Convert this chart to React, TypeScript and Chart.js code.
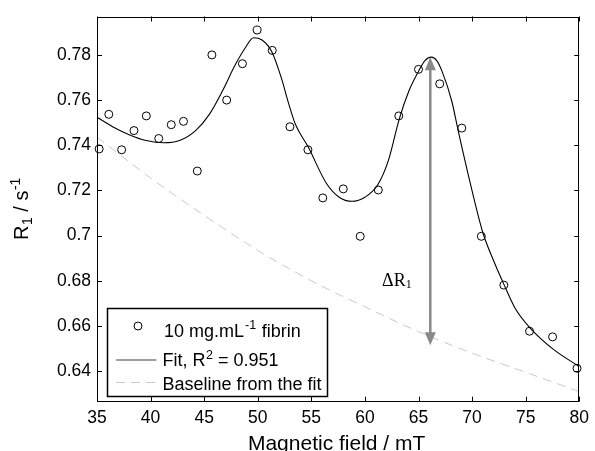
import React, { useEffect, useRef } from "react";
import { Chart, registerables } from "chart.js";

Chart.register(...registerables);

// Measured data (10 mg/mL fibrin)
const fieldMeasured = [35.2, 36.1, 37.3, 38.45, 39.6, 40.76, 41.93, 43.07, 44.36, 45.72, 47.1, 48.57, 49.94, 51.35, 53.0, 54.68, 56.07, 57.98, 59.56, 61.25, 63.16, 65.0, 66.98, 69.04, 70.86, 72.96, 75.36, 77.51, 79.79];
const r1Measured = [0.7384, 0.7537, 0.738, 0.7465, 0.753, 0.743, 0.7491, 0.7506, 0.7286, 0.78, 0.76, 0.7761, 0.791, 0.782, 0.7482, 0.738, 0.7167, 0.7207, 0.6997, 0.7202, 0.753, 0.7736, 0.7672, 0.7476, 0.6997, 0.6781, 0.6577, 0.6552, 0.6413];

// Fit curve
const fitField = [35, 36.5, 38, 39.6, 41.2, 42.7, 44.2, 45.5, 46.7, 47.9, 48.9, 49.6, 50.4, 51.3, 52.2, 52.9, 53.5, 54.7, 56.4, 57.6, 58.8, 60.0, 61.2, 62.2, 63.2, 64.1, 65.0, 65.6, 66.2, 66.7, 67.2, 68.1, 68.7, 69.9, 71.0, 72.0, 73.0, 74.0, 75.4, 77.5, 80];
const fitR1 = [0.7524, 0.7481, 0.7447, 0.7421, 0.7411, 0.7421, 0.7465, 0.7538, 0.764, 0.7756, 0.7836, 0.7876, 0.7866, 0.7815, 0.7698, 0.7582, 0.7494, 0.7393, 0.7232, 0.717, 0.7152, 0.717, 0.7225, 0.7334, 0.7516, 0.764, 0.7727, 0.7775, 0.779, 0.7775, 0.7727, 0.7596, 0.7465, 0.7218, 0.7014, 0.689, 0.6781, 0.668, 0.6592, 0.65, 0.642];

// Baseline from the fit
const baseField = [35, 40, 45, 50, 55, 60, 65, 70, 75, 80];
const baseR1 = [0.7436, 0.7255, 0.709, 0.6935, 0.68, 0.6685, 0.6575, 0.648, 0.6395, 0.631];

// Axes
const xTicks = [35, 40, 45, 50, 55, 60, 65, 70, 75, 80];
const yTicks = [0.64, 0.66, 0.68, 0.7, 0.72, 0.74, 0.76, 0.78];
const xRange = [35, 80];
const yRange = [0.6265, 0.797];

// Annotation (delta R1 arrow)
const arrowField = 66.1;
const arrowFrom = 0.6515;
const arrowTo = 0.779;
const deltaLabelField = 61.6;
const deltaLabelR1 = 0.6777;

const SANS = '"Liberation Sans", Arial, Helvetica, sans-serif';
const SERIF = '"Liberation Serif", "Times New Roman", serif';
const BASE_COLOR = "#cdc9c1";
const ARROW_COLOR = "#898989";

const drawPlugin = {
  id: "matlabDecor",
  afterDraw(chart: any) {
    const { ctx, chartArea: a, scales } = chart;
    const xs = scales.x;
    const ys = scales.y;
    ctx.save();

    // Box
    ctx.strokeStyle = "#000";
    ctx.lineWidth = 1;
    ctx.strokeRect(Math.round(a.left) + 0.5, Math.round(a.top) + 0.5, Math.round(a.right - a.left) - 1, Math.round(a.bottom - a.top) - 1);

    // Inward ticks
    const tl = 5;
    ctx.beginPath();
    xTicks.forEach((v) => {
      const px = Math.round(xs.getPixelForValue(v)) + 0.5;
      ctx.moveTo(px, a.bottom);
      ctx.lineTo(px, a.bottom - tl);
      ctx.moveTo(px, a.top);
      ctx.lineTo(px, a.top + tl);
    });
    yTicks.forEach((v) => {
      const py = Math.round(ys.getPixelForValue(v)) + 0.5;
      ctx.moveTo(a.left, py);
      ctx.lineTo(a.left + tl, py);
      ctx.moveTo(a.right, py);
      ctx.lineTo(a.right - tl, py);
    });
    ctx.stroke();

    // Arrow
    const ax = xs.getPixelForValue(arrowField);
    const ay1 = ys.getPixelForValue(arrowFrom);
    const ay2 = ys.getPixelForValue(arrowTo);
    const headL = 13;
    const headW = 5.5;
    ctx.strokeStyle = ARROW_COLOR;
    ctx.fillStyle = ARROW_COLOR;
    ctx.lineWidth = 2.5;
    ctx.beginPath();
    ctx.moveTo(ax, ay1 - headL + 1);
    ctx.lineTo(ax, ay2 + headL - 1);
    ctx.stroke();
    ctx.beginPath();
    ctx.moveTo(ax, ay1);
    ctx.lineTo(ax - headW, ay1 - headL);
    ctx.lineTo(ax + headW, ay1 - headL);
    ctx.closePath();
    ctx.fill();
    ctx.beginPath();
    ctx.moveTo(ax, ay2);
    ctx.lineTo(ax - headW, ay2 + headL);
    ctx.lineTo(ax + headW, ay2 + headL);
    ctx.closePath();
    ctx.fill();

    // Delta R1 label
    ctx.fillStyle = "#000";
    ctx.textBaseline = "alphabetic";
    ctx.textAlign = "left";
    let lx = xs.getPixelForValue(deltaLabelField);
    const ly = ys.getPixelForValue(deltaLabelR1);
    ctx.font = `18px ${SERIF}`;
    ctx.fillText("ΔR", lx, ly);
    lx += ctx.measureText("ΔR").width;
    ctx.font = `12px ${SERIF}`;
    ctx.fillText("1", lx, ly + 1.5);

    // Legend
    const L = a.left + 10.5;
    const T = a.top + 292;
    const W = 220;
    const H = 88;
    ctx.fillStyle = "#fff";
    ctx.fillRect(L, T, W, H);
    ctx.strokeStyle = "#000";
    ctx.lineWidth = 1.5;
    ctx.strokeRect(L, T, W, H);

    const lineX1 = L + 8.5;
    const lineX2 = L + 49;
    const textX = L + 55;
    // entry 1: circle
    ctx.lineWidth = 1;
    ctx.strokeStyle = "#000";
    ctx.beginPath();
    ctx.arc(L + 30.5, T + 17.5, 4, 0, Math.PI * 2);
    ctx.stroke();
    ctx.fillStyle = "#000";
    ctx.font = `18px ${SANS}`;
    let tx = textX + 1.5;
    let ty = T + 28;
    ctx.fillText("10 mg.mL", tx, ty);
    tx += ctx.measureText("10 mg.mL").width + 1;
    ctx.font = `12.5px ${SANS}`;
    ctx.fillText("-1", tx, ty - 7.5);
    tx += ctx.measureText("-1").width + 0.5;
    ctx.font = `18px ${SANS}`;
    ctx.fillText(" fibrin", tx, ty);

    // entry 2: fit line
    ctx.strokeStyle = "#444";
    ctx.lineWidth = 1.2;
    ctx.beginPath();
    ctx.moveTo(lineX1, T + 51.5);
    ctx.lineTo(lineX2, T + 51.5);
    ctx.stroke();
    tx = textX;
    ty = T + 57.5;
    ctx.fillText("Fit, R", tx, ty);
    tx += ctx.measureText("Fit, R").width + 0.5;
    ctx.font = `12.5px ${SANS}`;
    ctx.fillText("2", tx, ty - 7.5);
    tx += ctx.measureText("2").width;
    ctx.font = `18px ${SANS}`;
    ctx.fillText(" = 0.951", tx, ty);

    // entry 3: baseline
    ctx.strokeStyle = BASE_COLOR;
    ctx.lineWidth = 1;
    ctx.setLineDash([9, 6]);
    ctx.beginPath();
    ctx.moveTo(lineX1, T + 74);
    ctx.lineTo(lineX2, T + 74);
    ctx.stroke();
    ctx.setLineDash([]);
    ctx.fillText("Baseline from the fit", textX, T + 81.5);

    // X axis title
    ctx.font = `21px ${SANS}`;
    ctx.textAlign = "center";
    ctx.fillText("Magnetic field / mT", (a.left + a.right) / 2 - 1.5, 450);

    // Y axis title (rotated)
    ctx.save();
    ctx.translate(27.5, 240);
    ctx.rotate(-Math.PI / 2);
    ctx.textAlign = "left";
    let yx = 0;
    ctx.font = `20px ${SANS}`;
    ctx.fillText("R", yx, 0);
    yx += ctx.measureText("R").width + 0.5;
    ctx.font = `14px ${SANS}`;
    ctx.fillText("1", yx, 4);
    yx += ctx.measureText("1").width;
    ctx.font = `20px ${SANS}`;
    ctx.fillText(" / s", yx, 0);
    yx += ctx.measureText(" / s").width + 0.5;
    ctx.font = `14px ${SANS}`;
    ctx.fillText("-1", yx, -8);
    ctx.restore();

    ctx.restore();
  },
};

export default function App() {
  const canvasRef = useRef<HTMLCanvasElement | null>(null);

  useEffect(() => {
    document.body.style.margin = "0";
    const canvas = canvasRef.current;
    if (!canvas) return;
    const chart = new Chart(canvas, {
      type: "scatter",
      data: {
        datasets: [
          {
            label: "Baseline from the fit",
            data: baseField.map((x, i) => ({ x, y: baseR1[i] })),
            showLine: true,
            borderColor: BASE_COLOR,
            borderWidth: 1,
            borderDash: [9, 6],
            pointRadius: 0,
            cubicInterpolationMode: "monotone",
          } as any,
          {
            label: "Fit, R2 = 0.951",
            data: fitField.map((x, i) => ({ x, y: fitR1[i] })),
            showLine: true,
            borderColor: "#000",
            borderWidth: 1.1,
            pointRadius: 0,
            cubicInterpolationMode: "monotone",
          } as any,
          {
            label: "10 mg.mL-1 fibrin",
            data: fieldMeasured.map((x, i) => ({ x, y: r1Measured[i] })),
            showLine: false,
            pointStyle: "circle",
            pointRadius: 4,
            pointBorderWidth: 1,
            borderColor: "#000",
            backgroundColor: "rgba(0,0,0,0)",
            pointBackgroundColor: "rgba(0,0,0,0)",
            clip: false,
          } as any,
        ],
      },
      options: {
        animation: false,
        responsive: false,
        devicePixelRatio: window.devicePixelRatio || 1,
        layout: { padding: { left: 0, top: 11, right: 11, bottom: 0 } },
        plugins: {
          legend: { display: false },
          tooltip: { enabled: false },
        },
        scales: {
          x: {
            type: "linear",
            min: xRange[0],
            max: xRange[1],
            grid: { display: false, drawTicks: false },
            border: { display: false },
            afterBuildTicks: (s: any) => {
              s.ticks = xTicks.map((v) => ({ value: v }));
            },
            afterFit: (s: any) => {
              s.height = 49.3;
            },
            ticks: {
              color: "#000",
              padding: 6,
              maxRotation: 0,
              autoSkip: false,
              font: { family: SANS, size: 17.5 },
              callback: (v: any) => String(v),
            },
          },
          y: {
            type: "linear",
            min: yRange[0],
            max: yRange[1],
            grid: { display: false, drawTicks: false },
            border: { display: false },
            afterBuildTicks: (s: any) => {
              s.ticks = yTicks.map((v) => ({ value: v }));
            },
            afterFit: (s: any) => {
              s.width = 97;
            },
            ticks: {
              color: "#000",
              padding: 6,
              autoSkip: false,
              font: { family: SANS, size: 17.5 },
              callback: (v: any) => String(Number(Number(v).toFixed(2))),
            },
          },
        },
      } as any,
      plugins: [drawPlugin],
    });
    return () => chart.destroy();
  }, []);

  return (
    <div style={{ width: 595, height: 451, background: "#fff" }}>
      <canvas ref={canvasRef} width={595} height={451} style={{ display: "block", width: 595, height: 451 }} />
    </div>
  );
}
